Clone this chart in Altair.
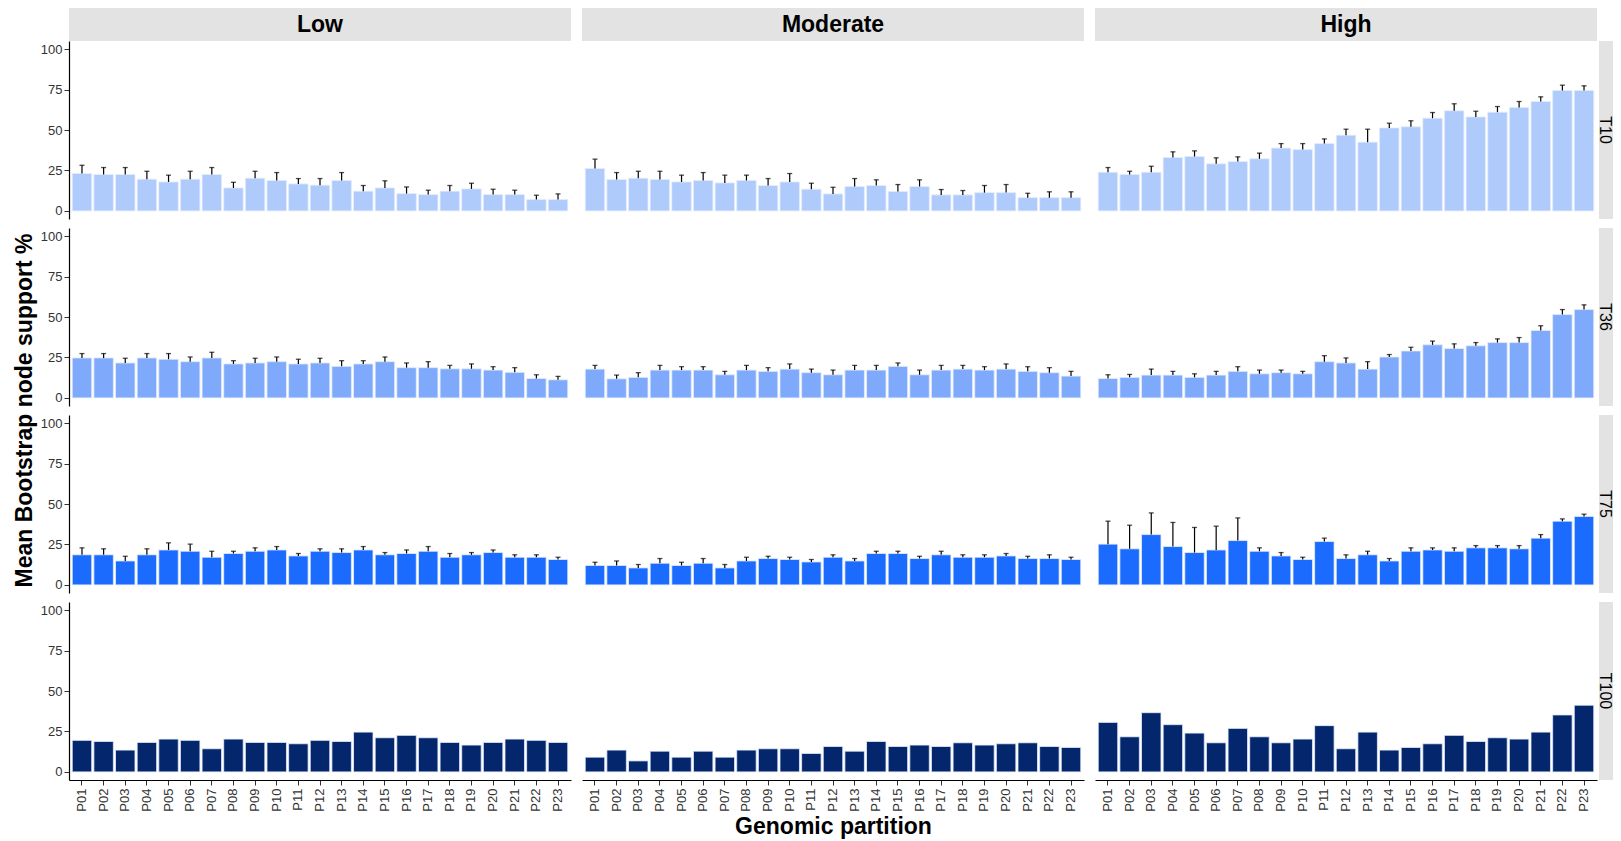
import altair as alt
import pandas as pd

partitions = ["P01", "P02", "P03", "P04", "P05", "P06", "P07", "P08", "P09", "P10", "P11", "P12",
              "P13", "P14", "P15", "P16", "P17", "P18", "P19", "P20", "P21", "P22", "P23"]
levels = ["Low", "Moderate", "High"]
thresholds = ["T10", "T36", "T75", "T100"]

# Mean bootstrap support (%) and upper end of the error bar
low_T10 = [23.1, 22.5, 22.5, 19.6, 17.9, 19.6, 22.5, 14.2, 20.2, 18.8, 16.7, 15.9, 18.8, 12.2, 14.2, 10.7, 10.1, 12.2, 13.6, 10.1, 10.1, 7.0, 7.0]
low_T10_up = [28.2, 26.8, 26.8, 24.5, 22.1, 24.5, 26.8, 17.7, 24.5, 23.7, 20.0, 20.0, 23.7, 15.7, 18.6, 14.8, 12.8, 15.7, 17.1, 13.4, 12.8, 9.7, 10.5]
mod_T10 = [26.2, 19.4, 20.2, 19.4, 17.9, 18.8, 17.3, 18.8, 15.7, 17.9, 13.4, 10.5, 15.1, 15.7, 12.0, 15.1, 9.9, 9.9, 11.3, 11.3, 8.2, 8.2, 8.2]
mod_T10_up = [32.0, 23.7, 24.5, 24.5, 22.1, 23.7, 22.1, 22.1, 20.0, 23.1, 17.1, 14.6, 20.0, 19.2, 16.3, 19.2, 13.2, 12.6, 15.7, 16.3, 10.9, 11.8, 11.8]
high_T10 = [23.9, 22.5, 23.9, 33.0, 33.6, 29.1, 30.5, 32.2, 38.8, 37.9, 41.6, 46.8, 42.5, 51.3, 52.0, 57.3, 61.9, 58.1, 61.0, 63.9, 67.6, 74.4, 74.4]
high_T10_up = [26.8, 24.5, 27.6, 36.5, 37.1, 32.8, 33.4, 35.7, 41.6, 41.6, 44.5, 50.5, 50.5, 54.2, 55.7, 60.8, 66.2, 61.6, 64.5, 67.6, 70.5, 77.7, 77.3]

low_T36 = [24.7, 24.7, 21.6, 24.7, 23.9, 22.4, 24.7, 21.0, 21.6, 22.4, 21.0, 21.6, 19.5, 21.0, 22.4, 18.7, 18.7, 18.0, 18.0, 17.2, 15.8, 12.0, 11.2]
low_T36_up = [27.4, 27.4, 24.5, 27.4, 27.4, 25.3, 28.2, 23.0, 24.5, 25.3, 23.9, 24.5, 23.0, 23.0, 25.3, 21.6, 22.4, 20.1, 21.0, 19.3, 18.7, 14.3, 13.3]
mod_T36 = [17.8, 11.8, 12.7, 17.2, 17.2, 17.2, 14.3, 17.2, 16.4, 17.8, 15.6, 14.3, 17.2, 17.2, 19.5, 14.3, 17.2, 17.8, 17.2, 17.8, 16.4, 15.6, 13.5]
mod_T36_up = [20.1, 14.1, 15.6, 20.1, 19.3, 19.3, 16.4, 20.1, 18.7, 21.0, 17.8, 17.2, 20.1, 20.1, 21.6, 17.2, 20.1, 20.1, 19.3, 21.0, 19.3, 18.7, 16.4]
high_T36 = [12.0, 12.7, 14.1, 14.1, 12.7, 14.1, 16.4, 14.9, 15.6, 14.9, 22.4, 21.6, 17.8, 25.3, 29.0, 32.8, 30.5, 32.2, 34.2, 34.2, 41.7, 51.5, 54.6]
high_T36_up = [14.3, 14.5, 17.8, 16.4, 14.9, 16.4, 19.3, 17.2, 17.2, 16.4, 26.1, 24.7, 22.4, 26.8, 31.3, 35.1, 33.4, 34.2, 36.5, 37.3, 44.6, 54.6, 57.5]

low_T75 = [18.6, 18.6, 14.8, 18.6, 21.6, 20.8, 17.1, 19.4, 20.8, 21.6, 17.9, 20.8, 20.0, 21.6, 18.6, 19.4, 20.8, 17.1, 18.6, 20.0, 17.1, 17.1, 15.7]
low_T75_up = [22.9, 22.3, 17.7, 22.3, 26.0, 25.2, 20.8, 20.8, 22.9, 23.7, 19.4, 22.3, 22.3, 23.7, 20.0, 21.6, 23.7, 19.4, 20.0, 21.6, 18.6, 18.6, 17.1]
mod_T75 = [12.0, 12.0, 10.5, 13.4, 12.0, 13.4, 10.5, 14.8, 16.3, 15.7, 14.2, 17.1, 14.8, 19.4, 19.4, 16.3, 18.6, 17.1, 17.1, 17.9, 16.3, 16.3, 15.7]
mod_T75_up = [14.0, 14.8, 12.6, 16.3, 14.0, 16.3, 12.6, 17.1, 17.7, 17.1, 15.7, 18.6, 16.3, 20.8, 20.8, 17.7, 20.8, 18.6, 18.6, 19.4, 17.7, 18.6, 17.1]
high_T75 = [25.2, 22.3, 31.1, 23.7, 20.0, 21.6, 27.4, 20.8, 17.9, 15.7, 26.8, 16.3, 18.6, 14.8, 20.8, 21.6, 20.8, 22.9, 22.9, 22.3, 28.9, 39.4, 42.3]
high_T75_up = [39.4, 36.9, 44.5, 38.6, 35.5, 36.3, 41.4, 22.9, 20.0, 17.1, 28.9, 18.6, 20.8, 16.3, 22.9, 22.9, 22.9, 24.3, 24.3, 24.3, 31.1, 40.8, 43.7]

low_T100 = [19.5, 18.8, 13.5, 18.2, 20.3, 19.5, 14.3, 20.3, 18.2, 18.2, 17.4, 19.5, 18.8, 24.6, 21.1, 22.6, 21.1, 18.2, 16.6, 18.2, 20.3, 19.5, 18.2]
mod_T100 = [9.1, 13.5, 6.8, 12.8, 9.1, 12.8, 9.1, 13.5, 14.3, 14.3, 11.4, 15.7, 12.8, 18.8, 15.7, 16.6, 15.7, 18.0, 16.6, 17.4, 18.0, 15.7, 15.1]
high_T100 = [30.6, 21.7, 36.6, 29.2, 24.0, 18.0, 26.9, 21.7, 18.0, 20.3, 28.6, 14.3, 24.6, 13.5, 15.1, 17.4, 22.6, 18.8, 21.1, 20.3, 24.6, 35.2, 41.2]

series = {
    ("Low", "T10"): (low_T10, low_T10_up),
    ("Moderate", "T10"): (mod_T10, mod_T10_up),
    ("High", "T10"): (high_T10, high_T10_up),
    ("Low", "T36"): (low_T36, low_T36_up),
    ("Moderate", "T36"): (mod_T36, mod_T36_up),
    ("High", "T36"): (high_T36, high_T36_up),
    ("Low", "T75"): (low_T75, low_T75_up),
    ("Moderate", "T75"): (mod_T75, mod_T75_up),
    ("High", "T75"): (high_T75, high_T75_up),
    ("Low", "T100"): (low_T100, None),
    ("Moderate", "T100"): (mod_T100, None),
    ("High", "T100"): (high_T100, None),
}

colors = {"T10": "#aecbfc", "T36": "#7faafb", "T75": "#1b6bff", "T100": "#03266c"}

records = []
for (lvl, thr), (means, ups) in series.items():
    for i, p in enumerate(partitions):
        records.append({"lvl": lvl, "thr": thr, "part": p, "mean": means[i],
                        "upper": ups[i] if ups is not None else None})
df = pd.DataFrame(records)

W, H = 502, 178
WH = 518  # High column cell includes the right-hand strip
FONT = "Liberation Sans"
STRIP = "#e3e3e3"

yscale = alt.Scale(domain=[-5, 105], nice=False, zero=False)


def cell(lvl, thr):
    left = lvl == "Low"
    bottom = thr == "T100"
    high = lvl == "High"
    if high:
        xscale = alt.Scale(paddingInner=0.1, paddingOuter=0.15, range=[0, W])
    else:
        xscale = alt.Scale(paddingInner=0.1, paddingOuter=0.15)
    if bottom:
        xax = alt.Axis(labelAngle=-90, labelFontSize=13, labelColor="#333333", tickColor="#333333",
                       tickSize=5, domainColor="black", domainWidth=1.2, labelPadding=3,
                       titleFontSize=23, titleFontWeight="bold", titleColor="black", titlePadding=4)
    else:
        xax = None
    xtitle = "Genomic partition" if (bottom and lvl == "Moderate") else None
    x = alt.X("part:N", sort=partitions, scale=xscale, axis=xax, title=xtitle)
    if left:
        yax = alt.Axis(values=[0, 25, 50, 75, 100], labelFontSize=13, labelColor="#333333",
                       tickColor="#333333", tickSize=5, domainColor="black", domainWidth=1.2,
                       labelPadding=2, grid=False)
    else:
        yax = None

    base = alt.Chart(df).transform_filter(f"datum.lvl == '{lvl}' && datum.thr == '{thr}'")
    layers = [
        base.mark_bar(color=colors[thr], stroke="#e4ecfa", strokeWidth=0.8).encode(
            x=x, y=alt.Y("mean:Q", scale=yscale, axis=yax, title=None), y2=alt.datum(0))
    ]
    if thr != "T100":
        layers.append(base.mark_rule(color="black", strokeWidth=1.2).encode(
            x=x, y=alt.Y("mean:Q", scale=yscale, axis=yax, title=None), y2="upper:Q"))
        layers.append(base.mark_tick(color="black", thickness=1.3, size=5).encode(
            x=x, y=alt.Y("upper:Q", scale=yscale, axis=yax, title=None)))
    if thr == "T10":
        sd = pd.DataFrame({"t": [lvl]})
        layers.append(alt.Chart(sd).mark_rect(color=STRIP).encode(
            x=alt.value(0), x2=alt.value(W), y=alt.value(-33), y2=alt.value(0)))
        layers.append(alt.Chart(sd).mark_text(fontSize=23, fontWeight="bold", color="black").encode(
            text="t:N", x=alt.value(W / 2), y=alt.value(-16)))
    if high:
        rd = pd.DataFrame({"t": [thr]})
        layers.append(alt.Chart(rd).mark_rect(color=STRIP, clip=True).encode(
            x=alt.value(W + 2), x2=alt.value(WH + 20), y=alt.value(0), y2=alt.value(H)))
        layers.append(alt.Chart(rd).mark_text(fontSize=16, angle=90, color="black",
                                              baseline="middle", align="center").encode(
            text="t:N", x=alt.value(W + 8), y=alt.value(H / 2)))
    if lvl == "Low" and thr == "T36":
        td = pd.DataFrame({"t": ["Mean Bootstrap node support %"]})
        layers.append(alt.Chart(td).mark_text(fontSize=23, fontWeight="bold", angle=270,
                                              color="black", baseline="middle", align="center").encode(
            text="t:N", x=alt.value(-44), y=alt.value(H + 4.5)))
    return alt.layer(*layers).properties(width=WH if high else W, height=H)


cells = [cell(lvl, thr) for thr in thresholds for lvl in levels]

chart = alt.concat(*cells, columns=3, spacing={"row": 9, "column": 11}).properties(
    bounds="flush",
    align="each",
    padding={"left": 5, "top": 0, "right": 0, "bottom": 0},
).configure(font=FONT).configure_view(stroke=None)

chart.save("out.html", embed_options={"renderer": "svg", "actions": False})
